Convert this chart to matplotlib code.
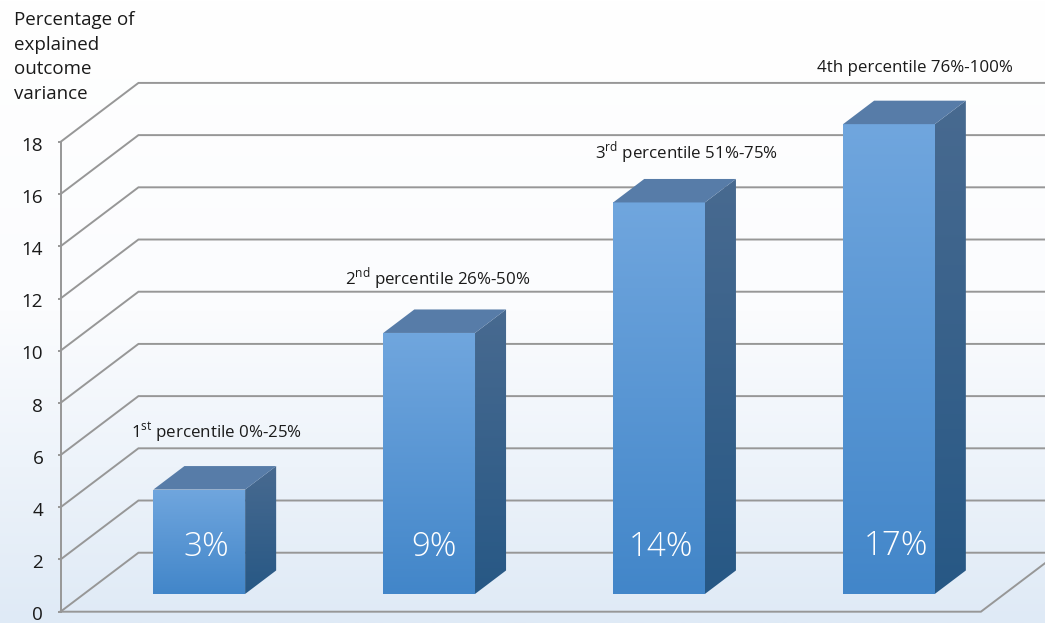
import numpy as np
import matplotlib
matplotlib.use("Agg")
import matplotlib.pyplot as plt
from matplotlib.colors import LinearSegmentedColormap
from matplotlib.patches import Polygon
from matplotlib.transforms import ScaledTranslation

plt.rcParams['font.family'] = ['Open Sans', 'DejaVu Sans']
plt.rcParams['mathtext.fontset'] = 'custom'
plt.rcParams['mathtext.rm'] = 'Open Sans'

# values
bar_heights = [4, 10, 15, 18]
bar_labels = ['3%', '9%', '14%', '17%']
bar_label_x = [0.03, 1.02, 2.01, 3.03]
bar_label_y = [2.46, 2.46, 2.46, 2.49]
group_labels = [r'1$^{\mathrm{st}}$ percentile 0%-25%',
                r'2$^{\mathrm{nd}}$ percentile 26%-50%',
                r'3$^{\mathrm{rd}}$ percentile 51%-75%',
                '4th percentile 76%-100%']
group_label_x = [0.073, 1.038, 2.117, 3.113]
group_label_y = [6.85, 12.74, 17.59, 20.84]
y_ticks = [0, 2, 4, 6, 8, 10, 12, 14, 16, 18]
y_title = 'Percentage of\nexplained\noutcome\nvariance'

# layout, in axis units
axis_x = -0.6035
floor_end = 3.4
wall_dx, wall_dy = 0.339, 2.26
bar_dx, bar_dy = 0.135, 0.9
bar_base = 0.68
bar_width = 0.399
grid_color = '#979797'

fig = plt.figure(figsize=(10.45, 6.23), dpi=100)
ax = fig.add_axes([0, 0, 1, 1])
xlim = (-0.8667, 3.6788)
ylim = (-0.433, 23.437)


def gradient(vertices, top, bottom, z):
    # vertical colour fade, clipped to the polygon
    poly = Polygon(vertices, closed=True, facecolor='none', edgecolor='none', zorder=z)
    ax.add_patch(poly)
    xs = [v[0] for v in vertices]
    ys = [v[1] for v in vertices]
    cmap = LinearSegmentedColormap.from_list('g', [top, bottom])
    im = ax.imshow(np.linspace(0, 1, 256).reshape(-1, 1), cmap=cmap, aspect='auto',
                   extent=(min(xs), max(xs), min(ys), max(ys)), zorder=z)
    im.set_clip_path(poly)


# background
bg = LinearSegmentedColormap.from_list('bg', ['#ffffff', '#fbfcfe', '#dfeaf6'])
ax.imshow(np.linspace(0, 1, 256).reshape(-1, 1), cmap=bg, aspect='auto',
          extent=(xlim[0], xlim[1], ylim[0], ylim[1]), zorder=0)

# wall and floor lines
for v in y_ticks:
    ax.plot([axis_x, axis_x + wall_dx, 3.8], [v, v + wall_dy, v + wall_dy],
            color=grid_color, lw=1.4, zorder=1, solid_joinstyle='miter')
ax.plot([axis_x, floor_end, floor_end + wall_dx], [0, 0, wall_dy],
        color=grid_color, lw=1.4, zorder=1, solid_joinstyle='miter')

# bars
for i, h in enumerate(bar_heights):
    left = i - bar_width / 2
    right = i + bar_width / 2
    low = bar_base
    high = bar_base + h
    gradient([(left, low), (right, low), (right, high), (left, high)], '#70a6de', '#4286c9', 3)
    gradient([(right, low), (right + bar_dx, low + bar_dy),
              (right + bar_dx, high + bar_dy), (right, high)], '#486a90', '#275885', 3)
    ax.add_patch(Polygon([(left, high), (right, high), (right + bar_dx, high + bar_dy),
                          (left + bar_dx, high + bar_dy)], closed=True,
                         facecolor='#577ca8', edgecolor='none', zorder=3))
    ax.text(bar_label_x[i], bar_label_y[i], bar_labels[i], color='white', fontsize=23.8,
            fontweight='light', ha='center', va='center', zorder=4)
    ax.text(group_label_x[i], group_label_y[i], group_labels[i], color='#1a1a1a', fontsize=12.2,
            ha='center', va='center', zorder=4)

ax.set_xlim(xlim)
ax.set_ylim(ylim)

# y axis
for s in ['top', 'right', 'bottom']:
    ax.spines[s].set_visible(False)
ax.spines['left'].set_position(('data', axis_x))
ax.spines['left'].set_bounds(0, 18)
ax.spines['left'].set_color(grid_color)
ax.spines['left'].set_linewidth(1.4)
ax.spines['left'].set_zorder(2)
ax.set_xticks([])
ax.set_yticks(y_ticks)
ax.tick_params(axis='y', length=2.4, width=1.4, color=grid_color, pad=10,
               labelsize=13.6, labelcolor='#1a1a1a')
shift = ScaledTranslation(0, -1.2 / 72, fig.dpi_scale_trans)
for lab in ax.get_yticklabels():
    lab.set_transform(lab.get_transform() + shift)

fig.text(14 / 1045, 1 - 57 / 623, y_title, color='#1a1a1a', fontsize=13.5, ha='left', va='center',
         linespacing=1.47)

fig.savefig('out.png', dpi=100)
